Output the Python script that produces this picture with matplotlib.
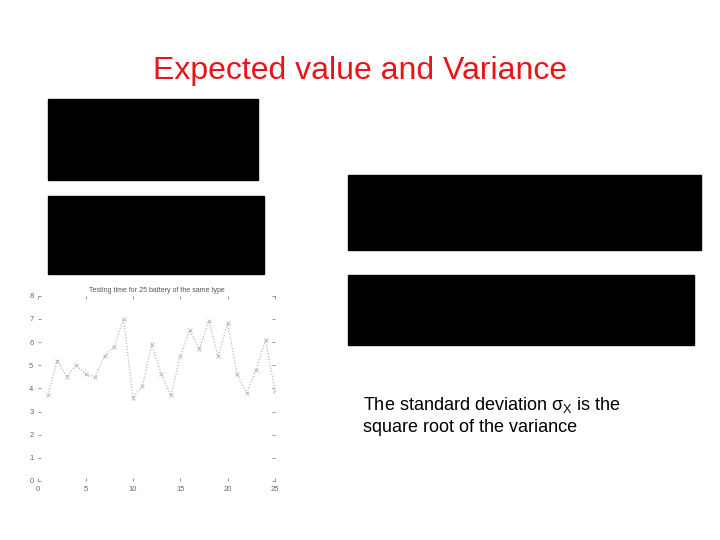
import matplotlib.pyplot as plt
from matplotlib.patches import Rectangle

# Testzeiten für 25 Batterien
battery = list(range(1, 26))
test_time = [3.7, 5.2, 4.5, 5.0, 4.6, 4.5, 5.4, 5.8, 7.0, 3.6,
             4.1, 5.9, 4.6, 3.7, 5.4, 6.5, 5.7, 6.9, 5.4, 6.8,
             4.6, 3.8, 4.8, 6.1, 3.9]
x_ticks = [0, 5, 10, 15, 20, 25]
y_ticks = [0, 1, 2, 3, 4, 5, 6, 7, 8]

plt.rcParams['font.family'] = ['Liberation Sans', 'DejaVu Sans']
fig = plt.figure(figsize=(7.2, 5.4), dpi=100)

fig.text(0.5, 1 - 71 / 540, "Expected value and Variance", color="#e8141a",
         fontsize=23, ha='center', va='center')

# schwarze Bildflächen (Formeln)
for (x0, y0, x1, y1) in [(48, 99, 258, 180), (48, 196, 264, 274),
                         (348, 175, 701, 250), (348, 275, 694, 345)]:
    fig.add_artist(Rectangle((x0 / 720, 1 - y1 / 540), (x1 - x0) / 720, (y1 - y0) / 540,
                             transform=fig.transFigure, color='black'))

fig.text(363 / 720, 1 - 405 / 540, r"The standard deviation $\mathregular{\sigma_X}$ is the",
         fontsize=13, va='center', ha='left')
fig.text(363 / 720, 1 - 427 / 540, "square root of the variance",
         fontsize=13, va='center', ha='left')

ax = fig.add_axes([0.0532, 0.1093, 0.3288, 0.3431])
ax.plot(battery, test_time, linestyle=':', color='#aaaaaa', linewidth=0.8,
        marker='x', markersize=2.5, markeredgewidth=0.5)
ax.set_xlim(0, 25)
ax.set_ylim(0, 8)
ax.set_xticks(x_ticks)
ax.set_yticks(y_ticks)
ax.tick_params(labelsize=5.5, colors='#666666', length=2, width=0.5,
               top=True, right=True, direction='in')
for s in ax.spines.values():
    s.set_visible(False)
ax.set_title("Testing time for 25 battery of the same type", fontsize=5,
             color='#555555', pad=3)

fig.savefig("out.png", dpi=100)
